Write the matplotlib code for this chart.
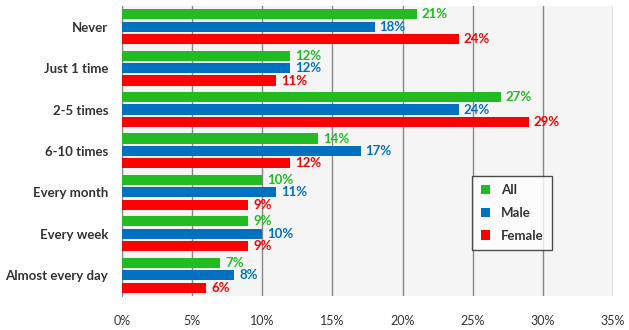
import matplotlib
matplotlib.use('Agg')
import matplotlib.pyplot as plt
import numpy as np

# Data
categories = ["Never", "Just 1 time", "2-5 times", "6-10 times",
              "Every month", "Every week", "Almost every day"]
all_vals = [21, 12, 27, 14, 10, 9, 7]
male_vals = [18, 12, 24, 17, 11, 10, 8]
female_vals = [24, 11, 29, 12, 9, 9, 6]
series_names = ["All", "Male", "Female"]
colors = ["#22BB22", "#0070C0", "#FF0000"]
xticks = [0, 5, 10, 15, 20, 25, 30, 35]

plt.rcParams['font.family'] = ['Lato', 'DejaVu Sans']

fig = plt.figure(figsize=(6.29, 3.30), dpi=100)
ax = fig.add_axes([0.194, 0.103, 0.7806, 0.879])
ax.set_facecolor("#F5F5F5")

y = np.arange(len(categories))
step = 0.3
h = 0.245
for i, (vals, name, c) in enumerate(zip([all_vals, male_vals, female_vals], series_names, colors)):
    pos = y + (i - 1) * step
    ax.barh(pos, vals, height=h, color=c, label=name, zorder=3)
    for p, v in zip(pos, vals):
        ax.text(v + 0.35, p, "%d%%" % v, color=c, fontsize=9.5, fontweight='bold',
                va='center', ha='left', zorder=4)

ax.set_xlim(0, 35)
ax.set_ylim(len(categories) - 0.5, -0.5)
ax.set_yticks(y)
ax.set_yticklabels(categories, fontsize=9.5, fontweight='bold', color='#333333')
ax.set_xticks(xticks)
ax.set_xticklabels(["%d%%" % t for t in xticks], fontsize=9, color='#333333')
ax.tick_params(axis='both', length=0)
ax.tick_params(axis='y', pad=10)
ax.tick_params(axis='x', pad=14)
ax.grid(axis='x', color='#888888', linewidth=1, zorder=1)
for s in ['top', 'right', 'bottom']:
    ax.spines[s].set_visible(False)
ax.spines['left'].set_color('#888888')

leg = ax.legend(loc='upper left', bbox_to_anchor=(0.7, 0.437), frameon=True,
                fancybox=False, edgecolor='#222222', handlelength=0.7,
                handleheight=0.7, labelspacing=0.8, borderpad=0.65,
                prop={'weight': 'bold', 'size': 9.5})
leg.get_frame().set_linewidth(1)
for t in leg.get_texts():
    t.set_color('#333333')

fig.savefig("out.png", dpi=100)
